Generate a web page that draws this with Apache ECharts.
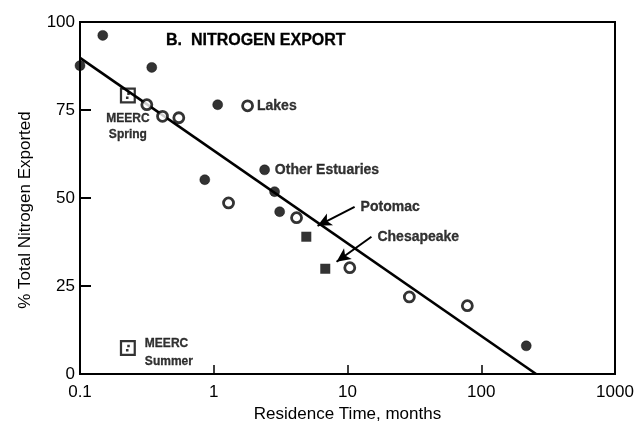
<!DOCTYPE html>
<html><head><meta charset="utf-8">
<script src="https://cdn.jsdelivr.net/npm/echarts@6/dist/echarts.min.js"></script>
<style>html,body{margin:0;padding:0;background:#fff}#c{width:644px;height:440px}</style>
</head><body><div id="c"></div>
<script>
// ---- data ----
const xTicks = [0.1, 1, 10, 100, 1000];
const yTicks = [0, 25, 50, 75, 100];
const filledCircles = [[0.1,87.6],[0.148,96.2],[0.344,87.1],[1.07,76.5],[0.857,55.2],[2.40,58.0],[2.85,51.8],[3.11,46.1],[217,8.0]];
const openCircles = [[0.316,76.5],[0.414,73.2],[0.548,72.8],[1.79,76.2],[1.29,48.6],[4.16,44.4],[10.4,30.2],[29.0,21.9],[78.7,19.4]];
const estuarySquares = [[4.92,39.0],[6.82,29.9]];
const meercPoints = [[0.228,79.1],[0.228,7.4]];
const meercNames = ['MEERC\nSpring','MEERC\nSummer'];
const regressionLine = [[0.1,89.8],[257,0]];
const potomacArrow = [[11.3,47.5],[5.97,42.1]];
const chesapeakeArrow = [[15.1,39.0],[8.28,31.9]];
const annotations = [[11.3,47.5,'Potomac'],[15.1,39.0,'Chesapeake']];
const labelledFilled = {5:'Other Estuaries'};
const labelledOpen = {3:'Lakes'};
const titleText = 'B.  NITROGEN EXPORT';

const FONT = "'Liberation Sans', Arial, sans-serif";
const INK = '#000';
const chart = echarts.init(document.getElementById('c'), null, {renderer:'canvas'});

const lblStyle = {show:true, position:'right', distance:5, color:INK, fontFamily:FONT, fontWeight:'bold', fontSize:14,
  textBorderColor:INK, textBorderWidth:0.3};

const filledData = filledCircles.map((p,i)=> labelledFilled[i] ? {value:p, label:Object.assign({}, lblStyle, {formatter:labelledFilled[i], distance:5})} : {value:p});
const openData = openCircles.map((p,i)=> labelledOpen[i] ? {value:p, label:Object.assign({}, lblStyle, {formatter:labelledOpen[i], distance:3})} : {value:p});
const meercLbl = {show:true, color:INK, fontFamily:FONT, fontWeight:'bold', fontSize:12, textBorderColor:INK, textBorderWidth:0.3};
const meercData = meercPoints.map((p,i)=> ({value:p, label: i===0
  ? Object.assign({}, meercLbl, {position:'bottom', distance:7, formatter:meercNames[i], lineHeight:16, align:'center'})
  : Object.assign({}, meercLbl, {position:'right', distance:9, offset:[0,5], formatter:meercNames[i], lineHeight:18, align:'left'})
}));

const meercSymbol = 'path://M0,0H10V10H0Z M1.4,1.4V8.6H8.6V1.4Z M4.6,3.0h1.6v1.6h-1.6z M3.8,5.6h1.6v1.6h-1.6z';

function arrowLine(a){
  return [{coord:a[0], symbol:'none'},{coord:a[1], symbol:'arrow'}];
}

chart.setOption({
  animation:false,
  backgroundColor:'#fff',
  title:{text:titleText, left:161, top:28, textStyle:{fontFamily:FONT, fontSize:16, fontWeight:'bold', color:INK, textBorderColor:INK, textBorderWidth:0.3}},
  grid:{left:80, right:29, top:22, bottom:66, show:true, borderColor:INK, borderWidth:2, backgroundColor:'transparent'},
  xAxis:{type:'log', logBase:10, min:xTicks[0], max:xTicks[xTicks.length-1],
    name:'Residence Time, months', nameLocation:'middle', nameGap:24,
    nameTextStyle:{fontFamily:FONT, fontSize:17, color:INK},
    axisLine:{show:true, lineStyle:{color:INK, width:2}},
    axisTick:{show:true, inside:true, length:9, lineStyle:{color:INK, width:1.5}},
    minorTick:{show:false},
    splitLine:{show:false},
    axisLabel:{fontFamily:FONT, fontSize:17, color:INK, margin:10,
      formatter:v=>{ const t=xTicks.find(k=>Math.abs(k-v)/k<1e-6); return t===undefined?'':String(t);} }
  },
  yAxis:{type:'value', min:yTicks[0], max:yTicks[yTicks.length-1], interval:25,
    name:'% Total Nitrogen Exported', nameLocation:'middle', nameGap:46,
    nameTextStyle:{fontFamily:FONT, fontSize:17, color:INK, padding:[0,24,0,0]},
    axisLine:{show:true, lineStyle:{color:INK, width:2}},
    axisTick:{show:true, inside:true, length:11, lineStyle:{color:INK, width:2}},
    splitLine:{show:false},
    axisLabel:{fontFamily:FONT, fontSize:17, color:INK, margin:5}
  },
  series:[
    {type:'line', data:regressionLine, symbol:'none', clip:false,
      lineStyle:{color:INK, width:2.6}, z:2,
      markLine:{silent:true, symbolSize:[10,14], label:{show:false},
        lineStyle:{color:INK, width:2, type:'solid'},
        data:[arrowLine(potomacArrow), arrowLine(chesapeakeArrow)]}
    },
    {type:'scatter', data:filledData, symbol:'circle', symbolSize:10, clip:false,
      itemStyle:{color:INK, borderColor:INK, borderWidth:0.5}, z:3},
    {type:'scatter', data:openData, symbol:'circle', symbolSize:10, clip:false,
      itemStyle:{color:'#fff', borderColor:INK, borderWidth:2.8}, z:3},
    {type:'scatter', data:estuarySquares, symbol:'rect', symbolSize:10, clip:false,
      itemStyle:{color:INK}, z:3},
    {type:'scatter', data:meercData, symbol:meercSymbol, symbolSize:16, clip:false,
      itemStyle:{color:INK}, z:3},
    {type:'scatter', data:annotations.map(a=>({value:[a[0],a[1]], name:a[2]})), symbolSize:0, clip:false,
      label:Object.assign({}, lblStyle, {formatter:p=>p.name, distance:6}), z:4}
  ]
});
</script></body></html>
